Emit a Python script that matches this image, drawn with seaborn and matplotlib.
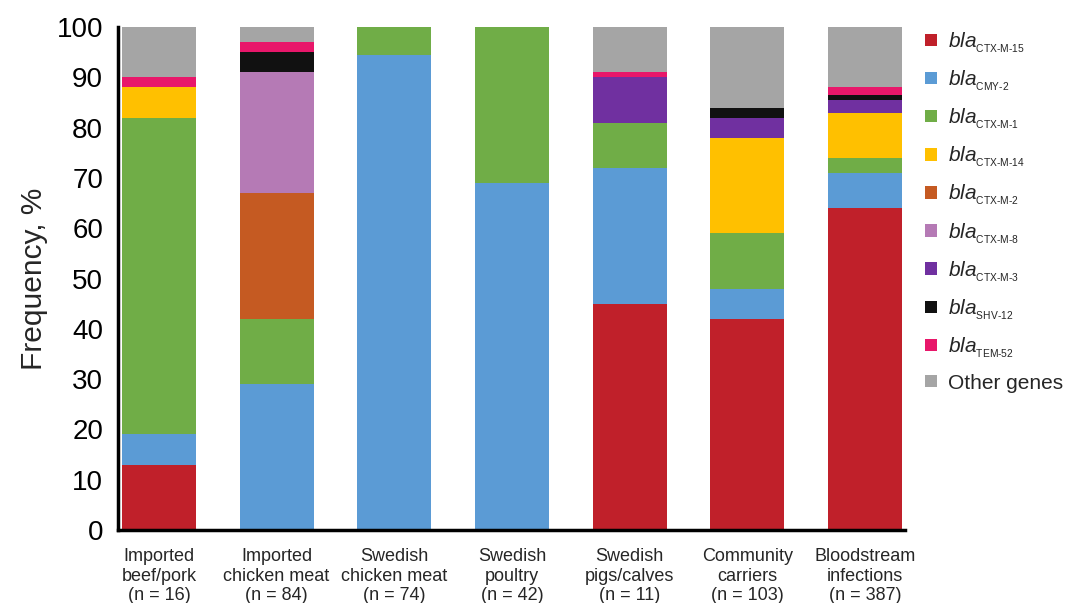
import numpy as np
import pandas as pd
import matplotlib
matplotlib.use("Agg")
import matplotlib.pyplot as plt
from matplotlib.patches import Patch
import seaborn as sns

sns.set_style("white")
plt.rcParams['font.family'] = ['Liberation Sans', 'DejaVu Sans']
plt.rcParams['mathtext.fontset'] = 'custom'
plt.rcParams['mathtext.rm'] = 'Liberation Sans'
plt.rcParams['mathtext.it'] = 'Liberation Sans:italic'
plt.rcParams['mathtext.bf'] = 'Liberation Sans:bold'

groups = ["Imported\nbeef/pork\n(n = 16)", "Imported\nchicken meat\n(n = 84)",
          "Swedish\nchicken meat\n(n = 74)", "Swedish\npoultry\n(n = 42)",
          "Swedish\npigs/calves\n(n = 11)", "Community\ncarriers\n(n = 103)",
          "Bloodstream\ninfections\n(n = 387)"]

genes = ["CTX-M-15", "CMY-2", "CTX-M-1", "CTX-M-14", "CTX-M-2", "CTX-M-8",
         "CTX-M-3", "SHV-12", "TEM-52", "Other genes"]

ctx_m_15 = [13, 0, 0, 0, 45, 42, 64]
cmy_2    = [6, 29, 94.5, 69, 27, 6, 7]
ctx_m_1  = [63, 13, 5.5, 31, 9, 11, 3]
ctx_m_14 = [6, 0, 0, 0, 0, 19, 9]
ctx_m_2  = [0, 25, 0, 0, 0, 0, 0]
ctx_m_8  = [0, 24, 0, 0, 0, 0, 0]
ctx_m_3  = [0, 0, 0, 0, 9, 4, 2.5]
shv_12   = [0, 4, 0, 0, 0, 2, 1]
tem_52   = [2, 2, 0, 0, 1, 0, 1.5]
other    = [10, 3, 0, 0, 9, 16, 12]

colors = ["#C0202A", "#5B9BD5", "#70AD47", "#FFC000", "#C55A22",
          "#B57AB5", "#7030A0", "#111111", "#E8176A", "#A5A5A5"]

series = [ctx_m_15, cmy_2, ctx_m_1, ctx_m_14, ctx_m_2, ctx_m_8,
          ctx_m_3, shv_12, tem_52, other]

vals = np.array(series, dtype=float)
cum = np.cumsum(vals, axis=0)

fig = plt.figure(figsize=(10.66, 6.03), dpi=100)
ax = fig.add_axes([0.111, 0.121, 0.738, 0.834])

# draw from top layer (full cumulative) down so lower layers overlay
for i in range(len(genes) - 1, -1, -1):
    df = pd.DataFrame({"group": groups, "top": cum[i]})
    sns.barplot(data=df, x="group", y="top", color=colors[i], saturation=1,
                width=0.63, ax=ax, linewidth=0, order=groups)

ax.set_xlim(-0.345, 6.34)
ax.set_ylim(0, 100)
ax.set_yticks(np.arange(0, 101, 10))
ax.tick_params(axis='y', labelsize=20, length=8, width=2, direction='out',
               colors='black', pad=3)
ax.tick_params(axis='x', labelsize=13, length=0, pad=13)
for lab in ax.get_xticklabels():
    lab.set_linespacing(1.2)
ax.set_xlabel("")
ax.set_ylabel("Frequency, %", fontsize=21.5, labelpad=6)

sns.despine(ax=ax)
ax.spines['left'].set_linewidth(2.5)
ax.spines['bottom'].set_linewidth(2.5)
ax.spines['left'].set_color('black')
ax.spines['bottom'].set_color('black')

labels = [r"$\mathit{bla}_{_{\text{%s}}}$" % g for g in genes[:-1]] + ["Other genes"]
handles = [Patch(facecolor=c, edgecolor='none') for c in colors]
ax.legend(handles, labels, loc='upper left', bbox_to_anchor=(1.026, 0.994),
          frameon=False, fontsize=15, handlelength=0.55, handleheight=0.55,
          handletextpad=0.55, labelspacing=0.65, borderpad=0, borderaxespad=0)

fig.savefig("out.png", dpi=100)
